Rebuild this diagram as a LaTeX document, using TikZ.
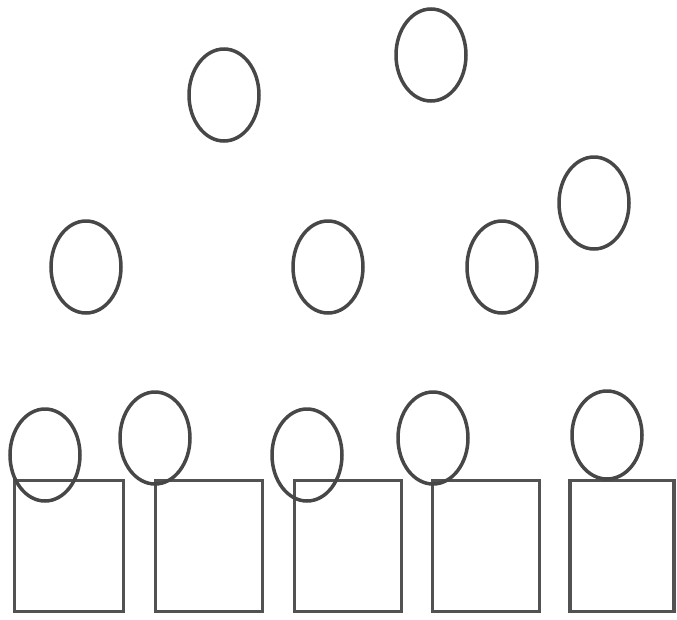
\documentclass[tikz,border=0pt]{standalone}
\usetikzlibrary{shapes.geometric}

\tikzset{
    testa/.style={draw=black!72,line width=3.5pt,ellipse,inner sep=0pt,
        minimum width=70pt,minimum height=92pt},
    corpo/.style={draw=black!68,line width=3.6pt,rectangle,inner sep=0pt,
        minimum width=107pt,minimum height=131pt}
}

\begin{document}
\begin{tikzpicture}[x=1pt,y=-1pt]
    \useasboundingbox (0,0) rectangle (677,619);

    %corpi
    \node[corpo,minimum width=109pt] (c1) at (69,546) {};
    \node[corpo] (c2) at (209,546) {};
    \node[corpo] (c3) at (348,546) {};
    \node[corpo] (c4) at (486,546) {};
    \node[corpo,minimum width=104pt] (c5) at (622,546) {};

    %teste in basso
    \node[testa] (t7) at (45,455) {};
    \node[testa] (t8) at (155,438) {};
    \node[testa] (t9) at (307,455) {};
    \node[testa] (t10) at (433,438) {};
    \node[testa,minimum height=88pt] (t11) at (607,435) {};

    %teste sparse
    \node[testa] (t1) at (224,95) {};
    \node[testa] (t2) at (431,55) {};
    \node[testa] (t3) at (86,267) {};
    \node[testa] (t4) at (328,267) {};
    \node[testa] (t5) at (502,267) {};
    \node[testa] (t6) at (594,203) {};
\end{tikzpicture}
\end{document}
